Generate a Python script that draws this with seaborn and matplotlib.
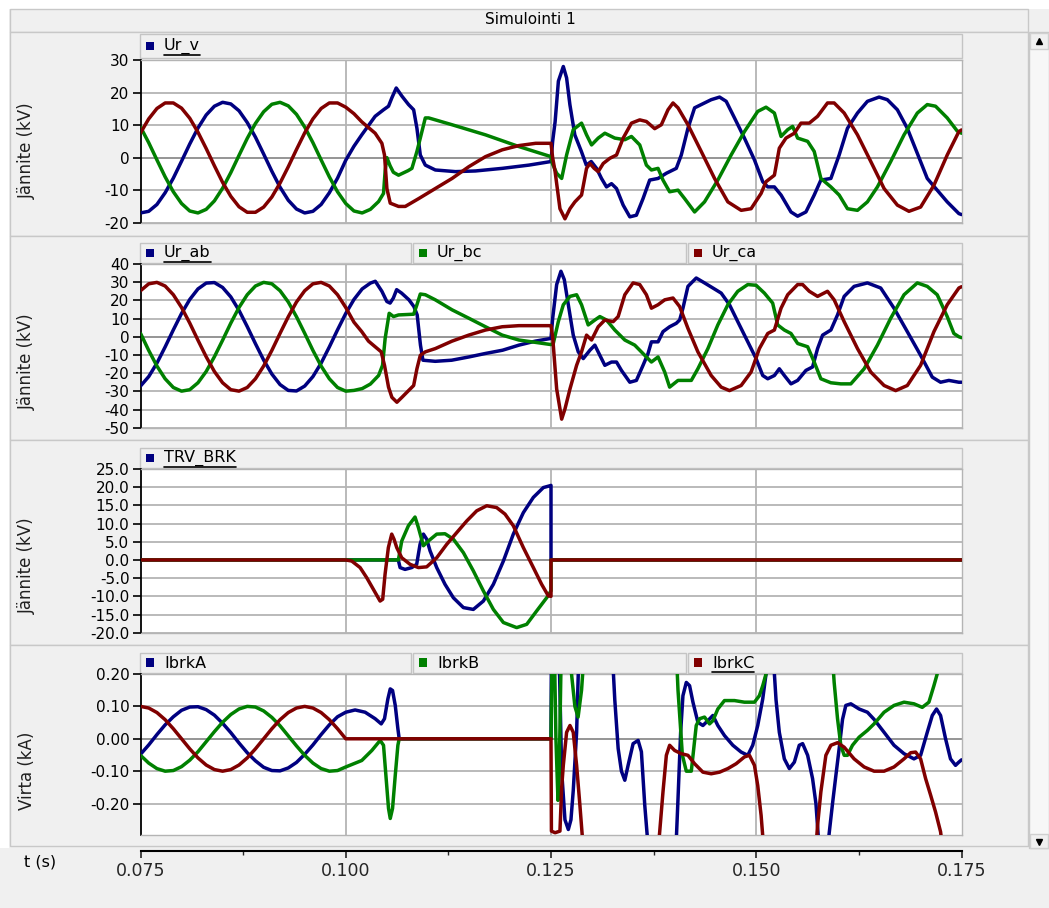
import numpy as np
import pandas as pd
import matplotlib
matplotlib.use("Agg")
import matplotlib.pyplot as plt
import seaborn as sns
from matplotlib.patches import Rectangle
from matplotlib.lines import Line2D

# ---------------- data (time in ms) ----------------
# Panel 1: Ur_v (kV)
T1A = list(range(75, 101)) + [101, 101.95, 103.58, 104.6, 105.21, 105.62, 106.15, 106.84, 107.65, 108.27,
      108.67, 109.08, 109.69, 110.91, 113.36, 115.8, 119.06, 122.31, 125.0,
      125.2, 125.5, 125.9, 126.5, 126.9, 127.3, 127.9, 128.7, 129.3, 129.9,
      130.55, 131.15, 131.76, 132.37, 132.98, 133.79, 134.6, 135.4, 136.21, 137.02,
      138.04, 139.05, 140.26, 140.87, 141.68, 142.49, 143.7, 144.51, 145.53, 146.34,
      147.35, 148.56, 149.78, 150.79, 151.4, 152.21, 153.02, 154.23, 155.04, 156.05,
      157.06, 157.87, 159.09, 160.1, 161.11, 162.33, 163.54, 164.96, 165.97, 167.19,
      168.4, 169.62, 170.83, 172.04, 173.26, 174.68, 175.0]
V1A = [-17.0, -16.5, -14.4, -10.8, -6.3, -1.1, 4.2, 9.1, 13.1, 15.8, 17.0, 16.5, 14.4, 10.8, 6.3, 1.1,
       -4.2, -9.1, -13.1, -15.8, -17.0, -16.5, -14.4, -10.8, -6.3, -0.8,
       3.5, 7.0, 12.7, 14.7, 15.8, 18.4, 21.4, 18.9, 16.3, 14.7, 9.0, 0.8, -2.3, -3.8, -4.3, -4.1, -3.3, -2.3, -1.2,
       5.0, 11.0, 23.5, 28.0, 24.5, 16.3, 7.0, 1.9, -2.3, -1.2,
       -3.3, -6.4, -9.0, -8.0, -9.5, -14.6, -18.2, -17.7, -12.6, -6.9,
       -6.4, -4.8, -3.3, 0.8, 9.0, 15.3, 16.8, 17.8, 18.6, 17.3,
       12.2, 6.0, -0.7, -7.4, -9.0, -9.0, -11.5, -16.7, -18.0, -16.7,
       -11.5, -6.9, -6.4, 0.8, 9.0, 13.7, 17.3, 18.6, 17.8, 14.7,
       9.0, 1.3, -6.4, -10.0, -13.6, -17.2, -17.5]
T1B = list(range(75, 104)) + [104.0, 104.6, 104.8, 105.01, 105.4, 105.8, 106.43, 107.6, 108.06, 108.67,
      109.08, 109.69, 110.1, 112.95, 117.02, 121.09, 125.0,
      125.2, 125.69, 126.3, 126.9, 127.71, 128.72, 129.33, 129.94, 130.75, 131.56,
      132.77, 133.99, 134.8, 135.81, 136.62, 137.23, 138.04, 138.64, 139.45, 140.47,
      141.28, 142.49, 143.7, 145.32, 146.94, 148.56, 150.18, 151.19, 152.21, 153.02,
      153.83, 154.43, 155.04, 156.26, 157.06, 157.87, 159.09, 160.1, 161.11, 162.33,
      163.54, 164.76, 166.38, 168.0, 169.62, 170.83, 171.84, 173.26, 174.47, 175.0]
V1B = [9.4, 4.6, -0.7, -5.9, -10.5, -14.1, -16.4, -17.0, -15.9, -13.3, -9.4, -4.6, 0.7, 5.9, 10.5, 14.1,
       16.4, 17.0, 15.9, 13.3, 9.4, 4.6, -0.7, -5.9, -10.5, -14.1, -16.4, -17.0, -15.9,
       -13.5, -11.0, -4.0, 0.0, -2.5, -4.5, -5.4, -4.0, -3.3, 1.9, 6.0, 12.2, 12.2, 10.1, 7.0, 3.4, 0.3,
       -2.0, -4.8, -6.4, 0.8, 8.6, 10.6, 7.0, 3.9, 6.0, 7.5,
       6.0, 5.5, 6.5, 3.9, -2.3, -3.8, -3.3, -6.9, -10.5, -10.0,
       -12.6, -16.7, -13.6, -6.9, 0.8, 8.0, 14.2, 15.5, 13.7, 6.5,
       8.6, 9.6, 6.0, 5.0, 1.9, -6.4, -9.0, -11.5, -15.7, -16.2,
       -13.6, -9.0, -1.2, 7.0, 13.7, 16.3, 15.8, 12.2, 8.2, 7.5]
T1C = list(range(75, 101)) + [101.0, 101.95, 103.58, 104.4, 104.72, 105.01, 105.42, 106.43, 107.25, 108.88,
      110.91, 112.95, 114.98, 117.02, 119.06, 121.09, 123.13, 125.0,
      125.2, 125.5, 126.09, 126.7, 127.31, 127.91, 128.72, 129.33, 129.74, 130.26,
      130.75, 131.36, 132.17, 132.98, 133.79, 134.8, 135.81, 136.62, 137.63, 138.44,
      139.25, 139.86, 140.47, 141.68, 143.3, 144.92, 146.54, 148.16, 149.37, 150.59,
      151.19, 152.21, 152.81, 153.62, 154.64, 155.45, 156.46, 157.47, 158.68, 159.49,
      160.71, 162.33, 163.95, 165.57, 167.19, 168.6, 170.02, 171.64, 173.26, 174.68, 175.0]
V1C = [7.6, 11.9, 15.1, 16.8, 16.8, 15.2, 12.1, 7.8, 2.8, -2.5, -7.6, -11.9, -15.1, -16.8, -16.8, -15.2,
       -12.1, -7.8, -2.8, 2.5, 7.6, 11.9, 15.1, 16.8, 16.8, 15.5,
       13.5, 11.0, 7.5, 4.4, 0.8, -9.5, -14.0, -15.0, -15.0, -12.6, -9.5, -6.4, -2.8, 0.3, 2.4, 3.7, 4.4, 4.4,
       0.0, -4.3, -15.7, -18.8, -15.7, -13.6, -11.5, -3.3, -1.8, -3.3,
       -4.3, -1.8, -0.2, 0.8, 6.0, 10.6, 11.6, 11.1, 8.9, 10.1,
       14.7, 16.8, 15.3, 10.1, 1.9, -6.4, -13.6, -16.2, -15.7, -11.0,
       -7.4, -5.4, 2.9, 6.0, 7.5, 10.6, 10.6, 12.7, 16.8, 16.8,
       13.7, 7.0, -1.2, -9.5, -14.6, -16.5, -15.2, -8.5, 0.8, 8.0, 8.5]

# Panel 2: Ur_ab, Ur_bc, Ur_ca (kV)
T2A = list(range(75, 104)) + [103.6, 104.4, 105.0, 105.4, 105.8, 106.2, 106.8, 107.7, 108.3, 108.7,
      109.1, 109.4, 110.9, 112.9, 115.0, 117.0, 119.1, 121.1, 123.1, 125.0,
      125.2, 125.69, 126.21, 126.62, 127.11, 127.71, 128.32, 128.93, 129.74, 130.34,
      130.95, 131.56, 132.37, 132.98, 133.58, 134.6, 135.4, 136.21, 136.82, 137.23,
      138.04, 138.64, 139.45, 140.26, 140.67, 141.07, 141.68, 142.69, 143.7, 144.72,
      145.73, 146.74, 147.75, 148.97, 149.98, 150.79, 151.4, 152.21, 152.81, 153.42,
      154.23, 155.04, 156.05, 156.86, 157.47, 158.08, 159.09, 159.9, 160.71, 161.92,
      163.54, 165.16, 166.78, 168.4, 170.02, 171.44, 172.45, 173.46, 174.68, 175.0]
V2A = [-27.1, -21.9, -14.5, -5.6, 3.8, 12.8, 20.5, 26.3, 29.5, 29.8, 27.1, 21.9, 14.5, 5.6, -3.8, -12.8,
       -20.5, -26.3, -29.5, -29.8, -27.1, -21.9, -14.5, -5.6, 3.8, 12.8, 20.5, 26.3, 29.5,
       30.5, 25.0, 19.4, 18.5, 21.3, 25.9, 24.0, 20.3, 16.6, 12.0, -4.6, -12.9, -13.5, -12.9, -11.1, -9.2,
       -7.4, -4.6, -2.4, -0.9,
       10.0, 28.7, 36.0, 31.4, 17.6, 0.9, -8.3, -12.0, -7.4, -4.6,
       -10.2, -15.7, -13.9, -13.9, -18.5, -25.0, -24.0, -15.7, -9.2, -2.8,
       -2.8, 2.8, 5.5, 7.4, 9.2, 15.7, 27.7, 32.3, 29.6, 26.8,
       24.0, 17.6, 8.3, -2.8, -12.0, -21.3, -23.1, -21.3, -17.6, -21.3,
       -25.9, -24.0, -18.5, -16.6, -6.5, 0.9, 3.7, 12.0, 22.2, 27.7,
       29.6, 26.8, 15.7, 2.8, -10.2, -22.2, -25.0, -24.0, -25.0, -25.0]
T2B = list(range(75, 104)) + [104.0, 104.48, 104.8, 105.29, 105.82, 106.43, 108.27, 108.67, 109.08, 109.69,
      110.91, 112.95, 114.98, 117.02, 119.06, 121.09, 123.13, 125.0,
      125.28, 125.89, 126.5, 127.31, 128.12, 128.72, 129.53, 130.34, 130.95, 131.76,
      132.77, 133.99, 135.2, 136.42, 137.23, 138.04, 138.85, 139.45, 140.47, 141.28,
      142.09, 142.89, 144.11, 145.32, 146.54, 147.75, 148.97, 149.98, 150.99, 152.0,
      152.61, 153.42, 154.23, 155.04, 156.26, 157.06, 157.87, 159.09, 160.3, 161.52,
      163.14, 164.76, 166.38, 168.0, 169.62, 170.83, 172.04, 173.26, 174.07, 174.68, 175.0]
V2B = [1.9, -7.5, -16.1, -23.1, -27.9, -29.9, -29.1, -25.3, -19.1, -11.0, -1.9, 7.5, 16.1, 23.1, 27.9, 29.9,
       29.1, 25.3, 19.1, 11.0, 1.9, -7.5, -16.1, -23.1, -27.9, -29.9, -29.5, -28.5, -26.0,
       -21.3, -15.7, -0.9, 12.9, 11.1, 12.0, 12.4, 17.6, 23.5, 23.1, 20.3, 14.8, 10.2, 5.5, 0.9, -1.8, -3.1, -4.3,
       -3.7, 8.3, 17.6, 22.2, 23.1, 17.6, 6.5, 9.2, 11.1, 9.2,
       3.7, -1.8, -4.6, -10.2, -13.9, -11.1, -19.4, -27.7, -24.0, -24.0,
       -24.0, -17.6, -6.5, 6.5, 17.6, 25.0, 28.7, 28.3, 24.0, 18.5,
       6.5, 3.7, 1.8, -3.7, -5.5, -13.9, -23.1, -25.3, -25.9, -25.9,
       -17.6, -4.6, 10.2, 23.1, 29.6, 27.7, 23.1, 11.1, 1.8, 0.0, -0.5]
T2C = list(range(75, 101)) + [101.0, 101.95, 102.77, 103.58, 104.32, 104.72, 105.21, 105.62, 106.23, 106.84,
      107.65, 108.27, 108.67, 109.08, 109.69, 110.91, 112.95, 114.98, 117.02, 119.06, 121.09, 125.0,
      125.2, 125.69, 126.3, 126.7, 127.31, 128.12, 128.72, 129.33, 129.94, 130.75,
      131.56, 132.57, 133.18, 133.99, 135.0, 135.81, 136.62, 137.23, 138.04, 138.85,
      139.86, 140.67, 141.68, 142.89, 144.51, 145.73, 146.74, 148.16, 149.37, 150.38,
      151.4, 152.21, 153.02, 153.83, 155.04, 155.65, 156.46, 157.47, 158.68, 159.49,
      160.71, 162.33, 163.95, 165.57, 166.98, 168.4, 170.02, 171.64, 173.26, 174.68, 175.0]
V2C = [25.3, 29.1, 29.9, 27.9, 23.1, 16.1, 7.5, -1.9, -11.0, -19.1, -25.3, -29.1, -29.9, -27.9, -23.1, -16.1,
       -7.5, 1.9, 11.0, 19.1, 25.3, 29.1, 29.9, 27.9, 23.1, 16.1,
       8.0, 2.8, -2.4, -5.5, -8.3, -15.7, -27.7, -33.3, -36.0, -33.3, -29.6, -26.8, -17.6, -10.2, -8.3, -6.5,
       -2.4, 0.9, 3.7, 5.5, 6.1, 6.1,
       0.0, -28.7, -45.3, -39.7, -28.7, -15.7, -8.3, 0.9, -1.8, 5.5,
       9.2, 8.3, 11.1, 23.1, 29.6, 28.7, 23.1, 15.7, 17.6, 20.3,
       21.3, 16.6, 4.6, -8.3, -21.3, -27.7, -29.6, -26.8, -19.4, -6.5,
       1.8, 3.7, 15.7, 23.1, 28.7, 28.7, 25.0, 22.2, 25.0, 20.3,
       8.3, -6.5, -19.4, -26.8, -29.6, -26.8, -15.7, 2.8, 17.6, 26.8, 27.5]

# Panel 3: TRV_BRK (kV)
T3A = [75.0, 106.4, 106.62, 107.22, 108.04, 108.64, 109.05, 109.46, 109.86, 110.27, 111.08, 112.09, 113.11,
       114.33, 115.54, 116.76, 117.98, 119.2, 120.41, 121.63, 122.85, 124.07, 124.88, 125.0, 125.0, 175.0]
V3A = [0.0, 0.0, -2.1, -2.6, -2.1, -1.2, 4.3, 7.1, 5.7, 2.5, -2.1, -6.7, -10.4,
       -13.1, -13.6, -11.3, -6.7, -0.3, 7.1, 13.0, 17.2, 19.9, 20.4, 20.5, 0.0, 0.0]
T3B = [75.0, 106.41, 106.82, 107.63, 108.44, 108.85, 109.46, 110.06, 111.08, 112.09, 113.11, 114.33, 115.54,
       116.76, 117.98, 119.2, 120.82, 122.04, 123.26, 124.47, 125.0, 125.0, 175.0]
V3B = [0.0, 0.0, 5.2, 9.4, 11.8, 8.9, 3.9, 5.2, 7.1, 7.2, 5.7, 2.0, -3.0,
       -8.5, -13.6, -17.2, -18.6, -17.7, -14.0, -10.4, -8.5, 0.0, 0.0]
T3C = [75.0, 100.0, 100.73, 101.75, 102.56, 103.37, 104.18, 104.5, 104.79, 105.19, 105.6, 105.88, 106.21,
       106.82, 107.83, 108.85, 109.86, 111.08, 112.3, 113.51, 114.73, 115.95, 117.17, 118.38, 119.4, 120.41,
       121.63, 122.85, 123.86, 124.68, 125.0, 125.0, 175.0]
V3C = [0.0, 0.0, -0.3, -2.1, -4.9, -8.1, -11.3, -10.8, -3.9, 3.4, 7.1, 5.7, 3.4,
       0.6, -1.2, -2.1, -1.9, 0.6, 4.3, 7.5, 10.7, 13.5, 14.9, 14.4, 12.6, 9.4,
       3.4, -2.1, -6.7, -9.9, -10.0, 0.0, 0.0]

# Panel 4: IbrkA, IbrkB, IbrkC (kA)
T4A = list(range(75, 101)) + [101.14, 102.36, 103.58, 104.32, 104.72, 105.13, 105.42, 105.7, 106.03, 106.35,
      106.51, 125.0,
      125.08, 125.6, 126.0, 126.3, 126.7, 127.11, 127.43, 127.71, 128.12, 128.32,
      128.6, 130.5, 132.4, 132.77, 133.18, 133.58, 133.99, 134.39, 135.0, 135.61,
      136.01, 136.42, 136.82, 138.5, 140.2, 140.47, 140.79, 141.07, 141.48, 141.88,
      142.29, 142.89, 143.5, 144.11, 144.72, 145.32, 146.13, 147.15, 148.16, 148.97,
      149.57, 150.18, 150.79, 151.19, 151.7, 152.21, 152.41, 152.81, 153.42, 154.03,
      154.64, 155.24, 155.65, 156.26, 156.86, 157.27, 157.55, 158.2, 158.89, 159.29,
      159.7, 160.1, 160.51, 160.91, 161.52, 162.53, 163.54, 164.35, 165.57, 166.78,
      168.0, 169.21, 170.02, 170.83, 171.44, 171.96, 172.45, 173.06, 173.66, 174.27, 174.68, 175.0]
V4A = [-0.048, -0.019, 0.013, 0.043, 0.068, 0.088, 0.098, 0.099, 0.090, 0.073, 0.048, 0.019, -0.013,
       -0.043, -0.068, -0.088, -0.098, -0.099, -0.090, -0.073, -0.048, -0.019, 0.013, 0.043, 0.068, 0.082,
       0.089, 0.082, 0.062, 0.046, 0.062, 0.123, 0.154, 0.149, 0.103, 0.031, 0.0, 0.0,
       0.45, 0.55, 0.25, -0.10, -0.25, -0.28, -0.25, -0.16, 0.02, 0.2,
       0.4, 0.7, 0.3, 0.12, -0.03, -0.10, -0.128, -0.082, -0.015, -0.005,
       -0.04, -0.205, -0.33, -0.6, -0.35, -0.185, 0.02, 0.133, 0.174, 0.164,
       0.113, 0.051, 0.041, 0.056, 0.072, 0.041, 0.01, -0.02, -0.041, -0.051,
       -0.02, 0.041, 0.123, 0.2, 0.3, 0.2, 0.12, 0.02, -0.062, -0.092,
       -0.072, -0.02, -0.015, -0.051, -0.123, -0.2, -0.3, -0.45, -0.29, -0.2,
       -0.113, -0.03, 0.06, 0.103, 0.108, 0.092, 0.082, 0.06, 0.02, -0.02,
       -0.046, -0.062, -0.051, 0.02, 0.072, 0.092, 0.072, 0.0, -0.062, -0.082, -0.072, -0.065]
T4B = list(range(75, 101)) + [101.95, 103.18, 104.19, 104.6, 104.89, 105.21, 105.42, 105.7, 106.03, 106.35,
      106.51, 125.0,
      125.15, 125.4, 125.6, 125.85, 126.0, 126.2, 126.4, 127.2, 127.5, 127.91,
      128.3, 128.72, 129.13, 130.0, 139.0, 140.3, 140.47, 141.0, 141.48, 142.09,
      142.69, 143.1, 143.7, 144.31, 144.72, 145.32, 146.13, 147.35, 148.56, 149.78,
      150.38, 150.79, 151.19, 151.8, 155.0, 158.8, 159.29, 159.49, 159.9, 160.3,
      160.71, 161.11, 161.72, 162.53, 163.54, 164.35, 165.57, 166.78, 168.0, 169.21,
      170.22, 171.03, 171.64, 172.04, 172.6, 175.0]
V4B = [-0.051, -0.075, -0.092, -0.100, -0.098, -0.086, -0.066, -0.040, -0.009, 0.022, 0.051, 0.075, 0.092,
       0.100, 0.098, 0.086, 0.066, 0.040, 0.009, -0.022, -0.051, -0.075, -0.092, -0.100, -0.098, -0.087,
       -0.067, -0.036, -0.005, -0.02, -0.113, -0.215, -0.246, -0.215, -0.113, -0.02, 0.0, 0.0,
       0.3, 0.3, 0.0, -0.19, -0.1, 0.2, 0.4, 0.4, 0.2, 0.10,
       0.067, 0.15, 0.3, 0.5, 0.5, 0.25, 0.15, -0.05, -0.1, -0.1,
       0.041, 0.062, 0.067, 0.046, 0.056, 0.092, 0.118, 0.118, 0.113, 0.113,
       0.133, 0.164, 0.2, 0.35, 0.6, 0.35, 0.25, 0.174, 0.062, -0.02,
       -0.051, -0.051, -0.02, 0.005, 0.026, 0.046, 0.082, 0.103, 0.113, 0.108,
       0.097, 0.113, 0.164, 0.2, 0.3, 0.5]
T4C = list(range(75, 101)) + [125.0,
      125.05, 125.5, 126.09, 126.3, 126.5, 126.9, 127.31, 127.71, 128.12, 128.52,
      128.81, 129.5, 137.5, 138.24, 138.64, 139.05, 139.45, 140.06, 140.87, 141.68,
      142.49, 143.5, 144.51, 145.53, 146.54, 147.55, 148.56, 149.17, 149.78, 150.18,
      150.59, 150.79, 151.5, 156.8, 157.47, 157.87, 158.48, 159.09, 159.9, 160.71,
      161.92, 163.14, 164.35, 165.57, 166.78, 168.0, 168.81, 169.41, 170.02, 170.63,
      171.24, 171.84, 172.45, 173.0, 175.0]
V4C = [0.100, 0.095, 0.081, 0.059, 0.031, 0.000, -0.031, -0.059, -0.081, -0.095, -0.100, -0.095, -0.081,
       -0.059, -0.031, 0.000, 0.031, 0.059, 0.081, 0.095, 0.100, 0.095, 0.081, 0.059, 0.031, 0.000,
       0.0,
       -0.285, -0.29, -0.285, -0.15, -0.082, 0.02, 0.041, 0.02, -0.082, -0.205,
       -0.3, -0.5, -0.5, -0.287, -0.164, -0.051, -0.02, -0.036, -0.046, -0.051,
       -0.077, -0.103, -0.108, -0.103, -0.092, -0.077, -0.056, -0.051, -0.082, -0.144,
       -0.236, -0.3, -0.5, -0.5, -0.267, -0.164, -0.051, -0.02, -0.012, -0.026,
       -0.062, -0.087, -0.1, -0.1, -0.087, -0.062, -0.043, -0.041, -0.062, -0.123,
       -0.174, -0.226, -0.287, -0.4, -0.6]

TITLE = "Simulointi 1"
XTICKS = [0.075, 0.100, 0.125, 0.150, 0.175]
XTICKLABELS = ["0.075", "0.100", "0.125", "0.150", "0.175"]

P1_TICKS = [30, 20, 10, 0, -10, -20]
P2_TICKS = [40, 30, 20, 10, 0, -10, -20, -30, -40, -50]
P3_TICKS = [25, 20, 15, 10, 5, 0, -5, -10, -15, -20]
P4_TICKS = [0.2, 0.1, 0.0, -0.1, -0.2]

# ---------------- styling ----------------
sns.set_theme(style="white")
plt.rcParams['font.family'] = ['DejaVu Sans']
plt.rcParams['axes.unicode_minus'] = False

W, H = 1049, 908
fig = plt.figure(figsize=(W / 100, H / 100), dpi=100, facecolor='#f0f0f0')

BLUE, GREEN, RED = '#000080', '#008000', '#800000'


def fx(x):
    return x / W


def fy(y):
    return 1 - y / H


def rect(x0, y0, x1, y1, fc, ec='none', lw=1.0, z=-5):
    fig.add_artist(Rectangle((fx(x0), fy(y1)), fx(x1) - fx(x0), fy(y0) - fy(y1),
                             transform=fig.transFigure, facecolor=fc, edgecolor=ec,
                             linewidth=lw, zorder=z))


# window chrome
rect(0, 0, W, 9, 'white', z=-6)
rect(0, 0, 9, 848, 'white', z=-6)
rect(10, 9, 1028, 32, '#f0f0f0', '#c8c8c8')
fig.text(fx(530), fy(20), TITLE, ha='center', va='center', fontsize=11, color='black')
for (y0, y1) in [(32, 236), (236, 440), (440, 645), (645, 846)]:
    rect(10, y0, 1028, y1, '#f0f0f0', '#c8c8c8')
# scrollbar
rect(1029, 32, 1049, 848, '#f7f7f7', '#c8c8c8')
rect(1030, 33, 1048, 49, '#f0f0f0', '#d0d0d0', z=-4)
rect(1030, 834, 1048, 848, '#f0f0f0', '#d0d0d0', z=-4)
fig.add_artist(Line2D([fx(1039)], [fy(41)], marker='^', ms=4, color='black', lw=0, transform=fig.transFigure))
fig.add_artist(Line2D([fx(1039)], [fy(842)], marker='v', ms=4, color='black', lw=0, transform=fig.transFigure))

X0, X1 = 140.5, 961.5


def make_df(series):
    frames = []
    for t, v, name in series:
        assert len(t) == len(v), name
        frames.append(pd.DataFrame({'t': np.asarray(t, float) / 1000.0, 'v': np.asarray(v, float), 'series': name}))
    return pd.concat(frames, ignore_index=True)


panels = [
    dict(series=[(T1A, V1A, 'a'), (T1B, V1B, 'b'), (T1C, V1C, 'c')], top=60, bot=222.7,
         ylim=(-20, 30), ticks=P1_TICKS, fmt='{:.0f}', ylabel='Jännite (kV)', ylab_y=151,
         leg=(34, 58), names=['Ur_v'], under=0),
    dict(series=[(T2A, V2A, 'a'), (T2B, V2B, 'b'), (T2C, V2C, 'c')], top=264, bot=427.7,
         ylim=(-50, 40), ticks=P2_TICKS, fmt='{:.0f}', ylabel='Jännite (kV)', ylab_y=362,
         leg=(243, 263), names=['Ur_ab', 'Ur_bc', 'Ur_ca'], under=0),
    dict(series=[(T3A, V3A, 'a'), (T3B, V3B, 'b'), (T3C, V3C, 'c')], top=469, bot=632.7,
         ylim=(-20, 25), ticks=P3_TICKS, fmt='{:.1f}', ylabel='Jännite (kV)', ylab_y=566,
         leg=(448, 468), names=['TRV_BRK'], under=0),
    dict(series=[(T4A, V4A, 'a'), (T4B, V4B, 'b'), (T4C, V4C, 'c')], top=674, bot=835,
         ylim=(-0.297, 0.2), ticks=P4_TICKS, fmt='{:.2f}', ylabel='Virta (kA)', ylab_y=771,
         leg=(653, 673), names=['IbrkA', 'IbrkB', 'IbrkC'], under=2),
]

texts_to_underline = []
for p in panels:
    ax = fig.add_axes([fx(X0), fy(p['bot']), fx(X1) - fx(X0), (p['bot'] - p['top']) / H])
    ax.set_facecolor('white')
    df = make_df(p['series'])
    sns.lineplot(data=df, x='t', y='v', hue='series', hue_order=['a', 'b', 'c'],
                 palette=[BLUE, GREEN, RED], sort=False, estimator=None, legend=False,
                 linewidth=2.5, ax=ax, zorder=3)
    ax.set_xlim(0.075, 0.175)
    ax.set_ylim(*p['ylim'])
    ax.set_yticks(p['ticks'])
    ax.set_yticklabels([p['fmt'].format(v) if abs(v) > 1e-9 else p['fmt'].format(0.0) for v in p['ticks']])
    ax.set_xticks([])
    ax.set_xlabel('')
    ax.set_ylabel('')
    for yv in p['ticks']:
        col = '#8c8c8c' if abs(yv) < 1e-9 else '#b4b4b4'
        ax.axhline(yv, color=col, lw=1.3, zorder=1)
    for xv in [0.100, 0.125, 0.150]:
        ax.axvline(xv, color='#b4b4b4', lw=1.3, zorder=1)
    for s in ['top', 'right', 'bottom']:
        ax.spines[s].set_color('#b4b4b4')
        ax.spines[s].set_linewidth(1.0)
    ax.spines['left'].set_color('black')
    ax.spines['left'].set_linewidth(1.3)
    ax.tick_params(axis='y', direction='out', length=6, width=1.2, color='black',
                   labelsize=11, labelcolor='black', pad=2, left=True)
    fig.text(fx(27), fy(p['ylab_y']), p['ylabel'], rotation=90, ha='center', va='center',
             fontsize=12, color='#202020')
    # legend bar
    y0, y1 = p['leg']
    ym = (y0 + y1) / 2
    cells = [(140, 962)] if len(p['names']) == 1 else [(140, 411), (413, 686), (688, 962)]
    cols = [BLUE] if len(p['names']) == 1 else [BLUE, GREEN, RED]
    for i, ((cx0, cx1), nm, c) in enumerate(zip(cells, p['names'], cols)):
        rect(cx0, y0, cx1, y1, '#f0f0f0', '#c4c4c4', z=-4)
        rect(cx0 + 6, ym - 4.5, cx0 + 14, ym + 3.5, c, z=-3)
        tx = fig.text(fx(cx0 + 24), fy(ym), nm, ha='left', va='center', fontsize=11.5, color='black')
        if i == p['under']:
            texts_to_underline.append(tx)

# bottom time axis
axx = fig.add_axes([fx(X0), fy(851), fx(X1) - fx(X0), 0.5 / H])
axx.set_facecolor('none')
axx.set_xlim(0.075, 0.175)
axx.set_yticks([])
for s in ['top', 'right', 'left']:
    axx.spines[s].set_visible(False)
axx.spines['bottom'].set_color('black')
axx.spines['bottom'].set_linewidth(1.5)
axx.set_xticks(XTICKS)
axx.set_xticklabels(XTICKLABELS)
axx.set_xticks([0.0875, 0.1125, 0.1375, 0.1625], minor=True)
axx.tick_params(axis='x', which='major', direction='out', length=5, width=1.2, labelsize=12.5, pad=3, bottom=True)
axx.tick_params(axis='x', which='minor', direction='out', length=3, width=1.0, bottom=True)
fig.text(fx(40), fy(862), 't (s)', ha='center', va='center', fontsize=11.5, color='black')

# underline the selected legend names
fig.canvas.draw()
r = fig.canvas.get_renderer()
for tx in texts_to_underline:
    bb = tx.get_window_extent(renderer=r)
    yline = (bb.y0 - 1) / H
    fig.add_artist(Line2D([bb.x0 / W, bb.x1 / W], [yline, yline], color='black', lw=1.2,
                          transform=fig.transFigure))

fig.savefig('out.png', dpi=100, facecolor=fig.get_facecolor())
